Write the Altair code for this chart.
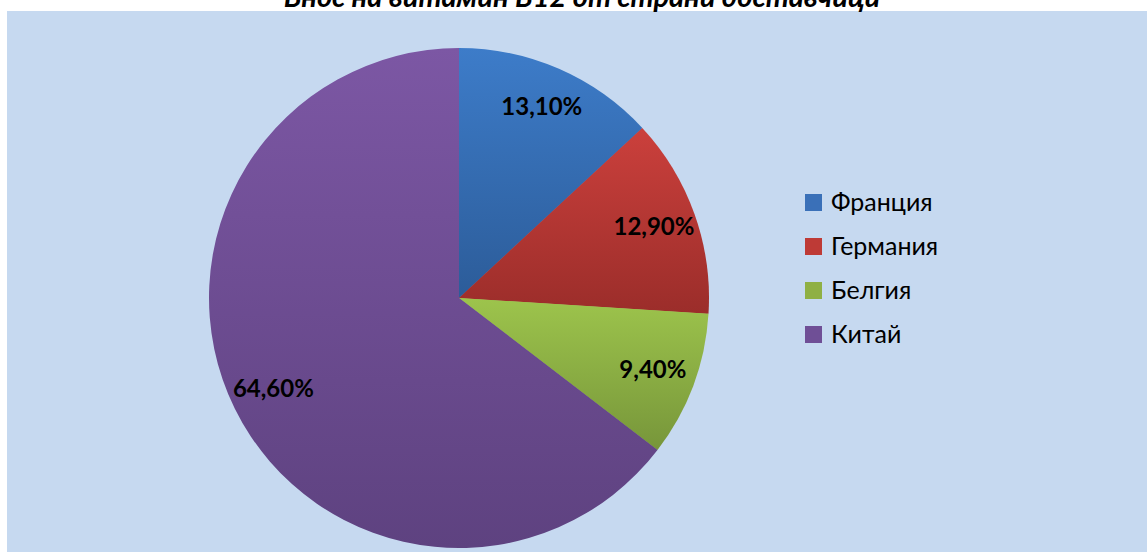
import altair as alt
import pandas as pd

countries = ["Франция", "Германия", "Белгия", "Китай"]
shares = [13.1, 12.9, 9.4, 64.6]
labels = ["13,10%", "12,90%", "9,40%", "64,60%"]
order = [0, 1, 2, 3]
legend_colors = ["#3a70b8", "#be3a36", "#8fb044", "#6f4f96"]
grad_top = ["#3d7cc9", "#cb403c", "#9dc44c", "#7c57a4"]
grad_bottom = ["#2c5c99", "#9b2d2a", "#77963a", "#5e4280"]
title_text = "Внос на витамин В12 от страни доставчици"

df = pd.DataFrame({"country": countries, "value": shares, "label": labels, "order": order})

CX, CY, R = 452, 287, 250
theta_scale = alt.Scale(domain=[0, 100], range=[0, 6.283185307179586])
FONT = "Lato"

def base():
    return (
        alt.Chart(df)
        .transform_window(cum="sum(value)", sort=[alt.SortField("order")])
        .transform_calculate(start="datum.cum - datum.value", mid="datum.cum - datum.value / 2")
    )

legend_layer = base().mark_arc(radius=R - 1).encode(
    theta=alt.Theta("start:Q", scale=theta_scale),
    theta2="cum:Q",
    x=alt.value(CX),
    y=alt.value(CY),
    color=alt.Color(
        "country:N",
        scale=alt.Scale(domain=countries, range=legend_colors),
        sort=countries,
        legend=alt.Legend(
            title=None,
            orient="none",
            legendX=794,
            legendY=179,
            symbolType="square",
            symbolSize=289,
            symbolStrokeWidth=0,
            labelFontSize=25,
            labelFont=FONT,
            labelColor="#000000",
            labelOffset=5,
            rowPadding=18,
            padding=0,
        ),
    ),
)

layers = [legend_layer]
for i, c in enumerate(countries):
    grad = alt.Gradient(
        gradient="linear",
        stops=[alt.GradientStop(color=grad_top[i], offset=0), alt.GradientStop(color=grad_bottom[i], offset=1)],
        x1=0, x2=0, y1=0, y2=1,
    )
    layers.append(
        base()
        .transform_filter(alt.datum.country == c)
        .mark_arc(radius=R, fill=grad, stroke=None)
        .encode(
            theta=alt.Theta("start:Q", scale=theta_scale),
            theta2="cum:Q",
            x=alt.value(CX),
            y=alt.value(CY),
        )
    )

text_layer = base().mark_text(
    radius=207, font=FONT, fontSize=24, fontWeight="bold", color="#000000", align="center", baseline="middle"
).encode(
    theta=alt.Theta("mid:Q", scale=theta_scale),
    text="label:N",
    x=alt.value(CX),
    y=alt.value(CY),
)
layers.append(text_layer)

title_layer = alt.Chart(pd.DataFrame({"t": [title_text]})).mark_text(
    font=FONT, fontSize=29, fontWeight="bold", fontStyle="italic", color="#000000",
    align="center", baseline="alphabetic",
).encode(text="t:N", x=alt.value(575), y=alt.value(-4))
layers.append(title_layer)

chart = (
    alt.layer(*layers)
    .properties(
        width=1140,
        height=541,
        background="#ffffff",
        padding={"left": 7, "top": 11, "right": 0, "bottom": 0},
        autosize=alt.AutoSizeParams(type="none"),
    )
    .configure_view(fill="#c6d9f0", strokeWidth=0)
)

chart.save("out.html", embed_options={"renderer": "svg", "actions": False})
